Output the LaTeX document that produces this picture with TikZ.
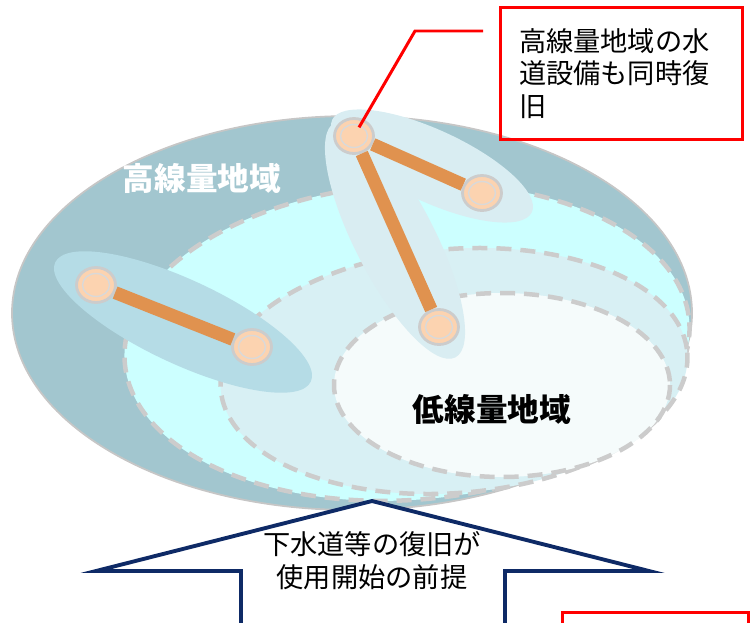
\documentclass[tikz,border=0pt]{standalone}
\usepackage{fontspec}
\setmainfont{Noto Sans CJK JP}
\usetikzlibrary{shapes.geometric}

\definecolor{highzone}{HTML}{A2C6CF}
\definecolor{midzone}{HTML}{CCFFFF}
\definecolor{lowring}{HTML}{D8F0F4}
\definecolor{lowzone}{HTML}{F5FBFB}
\definecolor{grpleft}{HTML}{B5DCE6}
\definecolor{grptop}{HTML}{D9EDF2}
\definecolor{pipe}{HTML}{E0924F}
\definecolor{peach}{HTML}{FCD3B0}
\definecolor{navy}{HTML}{0E2A66}
\definecolor{callred}{HTML}{FF0000}

\begin{document}
\begin{tikzpicture}[x = 0.02cm, y = -0.02cm,
        zone/.style = {draw = gray!40, line width = 0.09cm, dash pattern = on 0.3cm off 0.18cm},
        stn/.style = {ellipse, draw = gray!40, line width = 1.6pt, fill = peach,
            minimum width = 0.78cm, minimum height = 0.7cm, inner sep = 0pt,
            path picture = {\draw [gray!30, line width = 0.8pt]
                (path picture bounding box.center) ellipse (0.27cm and 0.23cm);}},
        pipeline/.style = {draw = pipe, line width = 0.26cm},
        callbox/.style = {draw = callred, line width = 1.7pt},
        bigtext/.style = {font = \bfseries\fontsize{18}{20}\selectfont},
        jptext/.style = {font = \fontsize{15.5}{18.7}\selectfont}
    ]
    \useasboundingbox (0, 0) rectangle (750, 622);
    \clip (0, 0) rectangle (750, 622);

    % zones
    \fill [highzone, draw = gray!45, line width = 1pt] (352, 313) ellipse (340 and 197);
    \fill [midzone, zone, rotate around = {4:(407, 342)}] (407, 342) ellipse (283 and 158);
    \fill [lowring, zone, rotate around = {4.5:(454, 371)}] (454, 371) ellipse (234 and 122);
    \fill [lowzone, zone] (502, 385) ellipse (168 and 92);

    % groups
    \fill [grpleft, rotate around = {-25:(183, 322)}] (183, 322) ellipse (141 and 42);
    \fill [grptop, rotate around = {-62.8:(395, 240)}] (395, 240) ellipse (132 and 40);
    \fill [grptop, rotate around = {-24.8:(432, 166)}] (432, 166) ellipse (110 and 36);

    \node [stn] (A) at (354, 136) {};
    \node [stn] (B) at (482, 193) {};
    \node [stn] (C) at (439, 327) {};
    \node [stn] (D) at (96, 285) {};
    \node [stn] (E) at (252, 347) {};
    \draw [pipeline] (A) -- (B) (A) -- (C) (D) -- (E);

    \node [bigtext, text = white] (high) at (202, 178) {高線量地域};
    \node [bigtext, text = black] (low) at (492, 409) {低線量地域};

    % callout
    \node [callbox, jptext, minimum width = 4.86cm, minimum height = 2.66cm,
        text width = 4.1cm, align = left] (note) at (621.5, 73.5)
        {高線量地域の水\\道設備も同時復\\旧};
    \coordinate (K) at (483, 31);
    \draw [callred, line width = 1.7pt, shorten <= 0.2cm] (A.center) -- (415, 31) -- (K);
    \draw [callbox] (562, 612) rectangle (748, 660);

    % arrow
    \draw [navy, line width = 2.2pt, fill = white]
        (372, 501) -- (649, 571) -- (505, 571) -- (505, 640)
        -- (241, 640) -- (241, 571) -- (96, 571) -- cycle;
    \node [jptext, align = center] (base) at (372, 561)
        {下水道等の復旧が\\使用開始の前提};
\end{tikzpicture}
\end{document}
